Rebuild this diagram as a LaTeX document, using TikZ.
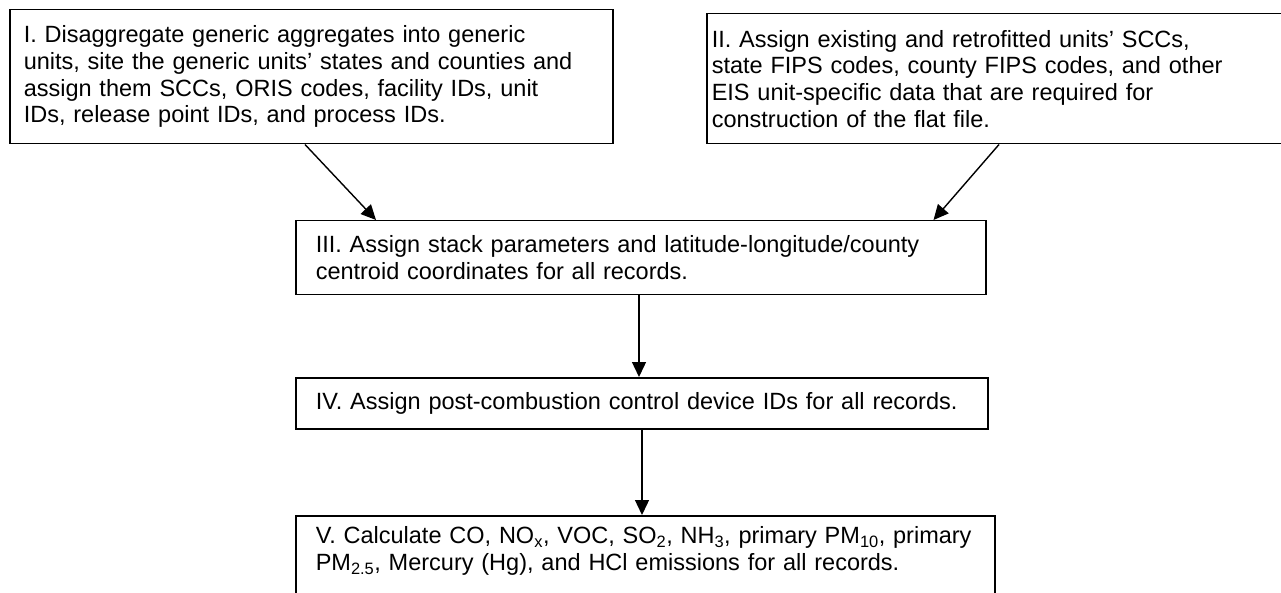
\documentclass[tikz,border=0pt]{standalone}
\usepackage{fontspec}
\setmainfont{Liberation Sans}
\usetikzlibrary{arrows.meta}

\tikzset{
    stepbox/.style={draw,line width=1.5pt,anchor=north west,align=left,
        inner ysep=0pt,font=\fontsize{23.5}{26.7}\selectfont},
    flow/.style={-{Triangle[length=15pt,width=14pt]},line width=1.4pt}
}

\begin{document}
\begin{tikzpicture}[x=1pt,y=-1pt]
    \useasboundingbox (0,0) rectangle (1281,593);
    % upper row
    \node[stepbox,inner xsep=14pt,text width=575pt,minimum height=134pt] (one) at (9,9)
        {I. Disaggregate generic aggregates into generic\\
         units, site the generic units' states and counties and\\
         assign them SCCs, ORIS codes, facility IDs, unit\\
         IDs, release point IDs, and process IDs.};
    \node[stepbox,inner xsep=5pt,text width=590pt,minimum height=130pt] (two) at (706,13)
        {II. Assign existing and retrofitted units' SCCs,\\
         state FIPS codes, county FIPS codes, and other\\
         EIS unit-specific data that are required for\\
         construction of the flat file.};
    % middle column
    \node[stepbox,inner xsep=20pt,text width=650pt,minimum height=74pt] (three) at (295,220)
        {III. Assign stack parameters and latitude-longitude/county\\
         centroid coordinates for all records.};
    \node[stepbox,inner xsep=20pt,text width=652pt,minimum height=51pt] (four) at (295,377)
        {IV. Assign post-combustion control device IDs for all records.};
    % bottom box runs off the page
    \node[stepbox,inner xsep=20pt,inner ysep=11pt,text width=659pt] (five) at (295,515)
        {V. Calculate CO, NO\textsubscript{x}, VOC, SO\textsubscript{2}, NH\textsubscript{3}, primary PM\textsubscript{10}, primary\\
         PM\textsubscript{2.5}, Mercury (Hg), and HCl emissions for all records.\\
         \rule{0pt}{30pt}};

    \draw[flow] ([xshift=296pt]one.south west) -- ([xshift=81pt]three.north west);
    \draw[flow] ([xshift=293pt]two.south west) -- ([xshift=-53pt]three.north east);
    \draw[flow] ([xshift=344pt]three.south west) -- ([xshift=344pt]four.north west);
    \draw[flow] ([xshift=347pt]four.south west) -- ([xshift=347pt]five.north west);
\end{tikzpicture}
\end{document}
